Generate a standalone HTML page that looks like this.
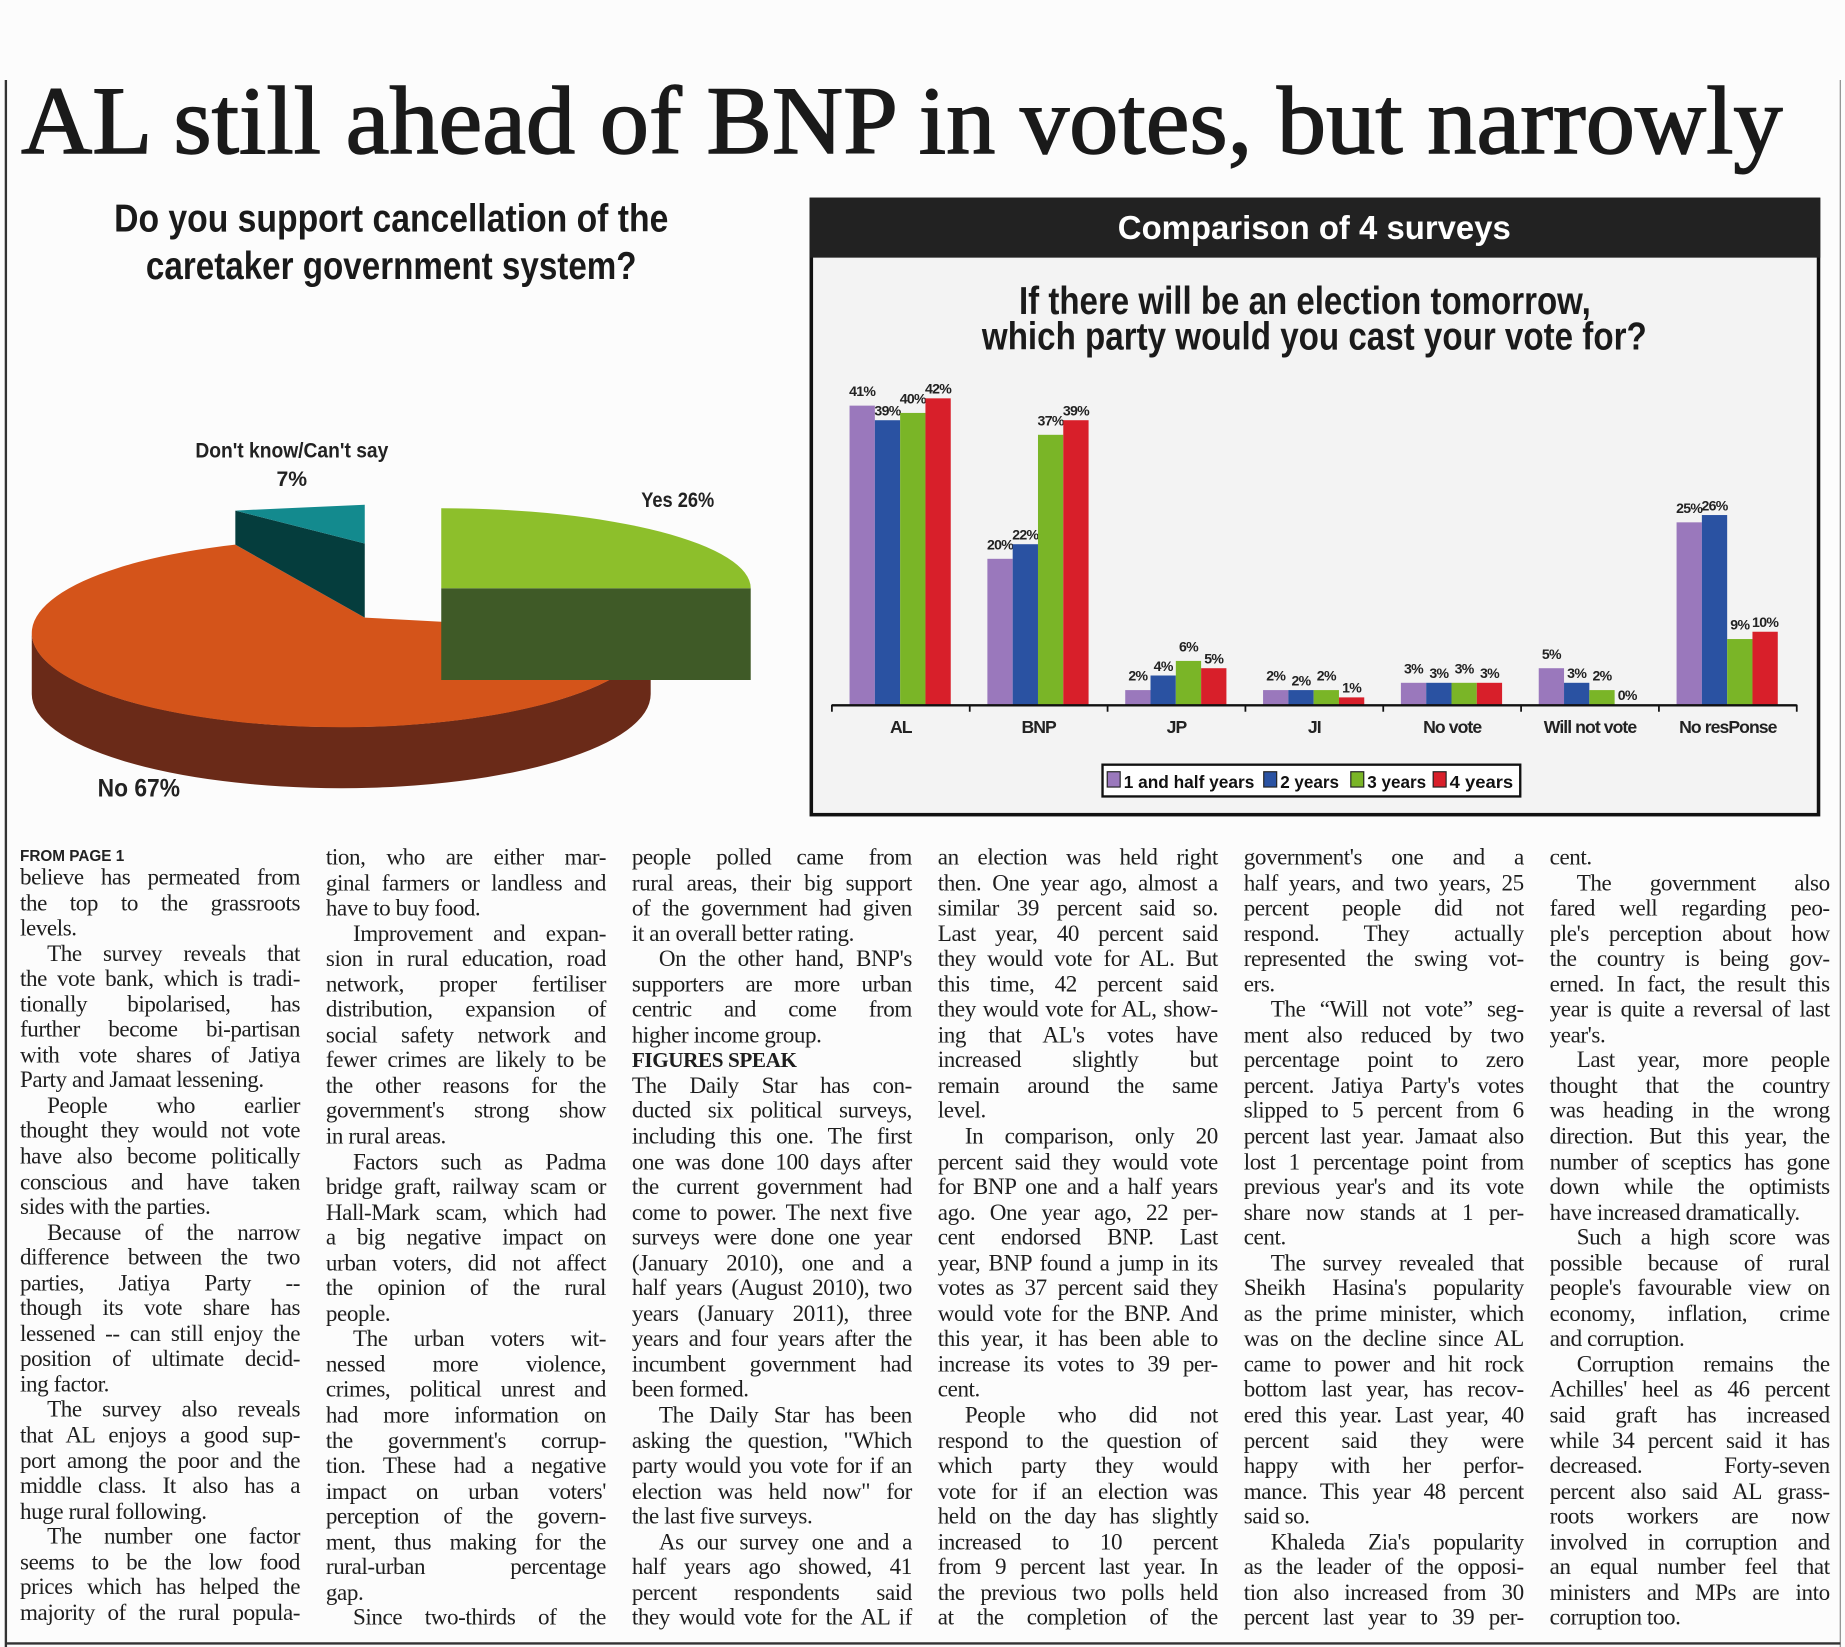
<!DOCTYPE html>
<html><head><meta charset="utf-8">
<style>
html,body{margin:0;padding:0;background:#fff;}
body{width:1845px;height:1647px;overflow:hidden;position:relative;}
#wrap{position:absolute;left:0;top:0;width:1568px;height:1400px;transform:scale(1.17666,1.17643);transform-origin:0 0;background:#fcfcfc;}
svg text{font-family:"Liberation Sans",sans-serif;}
.col{position:absolute;width:238px;font-family:"Liberation Serif",serif;font-size:19.6px;color:#1e1e1e;letter-spacing:-0.35px;}
.ln{height:21.55px;line-height:21.55px;white-space:nowrap;text-align:justify;text-align-last:justify;}
.ln.l{text-align-last:left;}
.ln.i{padding-left:23px;}
.ln.b{font-weight:bold;text-align-last:left;font-size:18px;}
</style></head>
<body>
<div id="wrap">
<svg id="gfx" width="1568" height="1400" style="position:absolute;left:0;top:0">
  <line x1="5" y1="68" x2="5" y2="1400" stroke="#333" stroke-width="2"/>
  <line x1="1564" y1="68" x2="1564" y2="1400" stroke="#888" stroke-width="1"/>
  <line x1="5" y1="1397" x2="1564" y2="1397" stroke="#333" stroke-width="2"/>
  <text x="18" y="130" font-size="82" fill="#1a1a1a" stroke="#1a1a1a" stroke-width="1.2" textLength="1497" lengthAdjust="spacingAndGlyphs" style="font-family:'Liberation Serif',serif">AL still ahead of BNP in votes, but narrowly</text>
  <text x="97" y="197" font-size="33" font-weight="bold" fill="#1a1a1a" textLength="471" lengthAdjust="spacingAndGlyphs">Do you support cancellation of  the</text>
  <text x="124" y="237" font-size="33" font-weight="bold" fill="#1a1a1a" textLength="417" lengthAdjust="spacingAndGlyphs">caretaker government system?</text>
  <g>
    <path d="M553,538 A263 80 0 0 1 27,538 L27,590 A263 80 0 0 0 553,590 Z" fill="#6a2a18"/>
    <path d="M310,525 L553,538 A263 80 0 1 1 200,463 Z" fill="#d4541a"/>
    <polygon points="200,434 310,462 310,525 200,463" fill="#053d3d"/>
    <polygon points="200,434 310,429 310,462" fill="#138a8e"/>
    <path d="M375,500 L638,500 L638,578 L375,578 Z" fill="#3f5a27"/>
    <path d="M375,500 L638,500 A263 68 0 0 0 375,432 Z" fill="#8dbf2b"/>
    <text x="248" y="389" font-size="18" font-weight="bold" text-anchor="middle" fill="#222" textLength="164" lengthAdjust="spacingAndGlyphs">Don't know/Can't say</text>
    <text x="248" y="413" font-size="18" font-weight="bold" text-anchor="middle" fill="#222">7%</text>
    <text x="576" y="431" font-size="18" font-weight="bold" text-anchor="middle" fill="#222" textLength="62" lengthAdjust="spacingAndGlyphs">Yes 26%</text>
    <text x="118" y="677" font-size="21" font-weight="bold" text-anchor="middle" fill="#222" textLength="70" lengthAdjust="spacingAndGlyphs">No 67%</text>
  </g>
  <rect x="689.5" y="169.5" width="856" height="523" fill="#f3f3f3" stroke="#111" stroke-width="3"/>
  <rect x="688" y="168" width="859" height="51" fill="#222"/>
  <text x="1117" y="203" font-size="28" font-weight="bold" fill="#fff" text-anchor="middle" textLength="334" lengthAdjust="spacingAndGlyphs">Comparison of 4 surveys</text>
  <text x="1109" y="267" font-size="33" font-weight="bold" fill="#1a1a1a" text-anchor="middle" textLength="486" lengthAdjust="spacingAndGlyphs">If there will be an election tomorrow,</text>
  <text x="1117" y="297" font-size="33" font-weight="bold" fill="#1a1a1a" text-anchor="middle" textLength="565" lengthAdjust="spacingAndGlyphs">which party would you cast your vote for?</text>
  <g id="bars"></g>
  <rect x="937" y="650" width="355" height="27" fill="#fff" stroke="#111" stroke-width="2"/>
  <g id="legend"></g>
</svg>
<div style="position:absolute;left:17px;top:720px;font:bold 13px 'Liberation Sans',sans-serif;color:#222">FROM PAGE 1</div>
<div id="cols"></div>
</div>
<script>
const categories=["AL","BNP","JP","JI","No vote","Will not vote","No resPonse"];
const seriesNames=["1 and half years","2 years","3 years","4 years"];
const s1=[41,20,2,2,3,5,25];
const s2=[39,22,4,2,3,3,26];
const s3=[40,37,6,2,3,2,9];
const s4=[42,39,5,1,3,0,10];
const series=[s1,s2,s3,s4];
const colors=["#9a78bc","#2a52a2","#7ab527","#d81f2a"];
const NS="http://www.w3.org/2000/svg";
const x0=707,x1=1527,base=599,pxPer=6.2;
const gw=(x1-x0)/categories.length;
function xBand(i){return x0+gw*i;}
function yVal(v){return base-v*pxPer;}
function mk(tag,attrs,parent){const e=document.createElementNS(NS,tag);for(const k in attrs)e.setAttribute(k,attrs[k]);parent.appendChild(e);return e;}
const g=document.getElementById('bars');
const bw=21.5;
categories.forEach((c,i)=>{
  series.forEach((s,j)=>{
    const x=xBand(i)+15+j*bw, y=yVal(s[i]);
    const r=mk('rect',{x:x,y:y,width:bw,height:base-y,fill:colors[j]},g);
    
    
    const t=mk('text',{x:x+bw/2,y:y-4-(j%2?0:4),'font-size':12,'font-weight':'bold','text-anchor':'middle',fill:'#222','letter-spacing':'-0.6'},g);
    t.textContent=s[i]+'%';
    
    
  });
  const lb=mk('text',{x:xBand(i)+gw/2,y:623,'font-size':15,'font-weight':'bold','text-anchor':'middle',fill:'#222','letter-spacing':'-0.8'},g);
  lb.textContent=c;
  
  
});
const ax=mk('line',{x1:x0,y1:base+0.5,x2:x1,y2:base+0.5,stroke:'#111','stroke-width':2},g);


for(let i=0;i<=categories.length;i++){
  const tk=mk('line',{x1:xBand(i),y1:base,x2:xBand(i),y2:base+6,stroke:'#111','stroke-width':1.5},g);
  
  
}
const lg=document.getElementById('legend');
const lx=[941,1074,1148,1218], lw=[111,50,50,54];
seriesNames.forEach((n,j)=>{
  const r=mk('rect',{x:lx[j],y:656,width:11,height:13,fill:colors[j],stroke:'#222','stroke-width':1},lg);
  
  
  const t=mk('text',{x:lx[j]+14,y:670,'font-size':15,'font-weight':'bold',fill:'#111',textLength:lw[j],lengthAdjust:'spacingAndGlyphs'},lg);
  t.textContent=n;
  
  
});
const cols=[
[736,[
"believe has permeated from","the top to the grassroots","|levels.",">The survey reveals that","the vote bank, which is tradi-","tionally bipolarised, has","further become bi-partisan","with vote shares of Jatiya","|Party and Jamaat lessening.",">People who earlier","thought they would not vote","have also become politically","conscious and have taken","|sides with the parties.",">Because of the narrow","difference between the two","parties, Jatiya Party --","though its vote share has","lessened -- can still enjoy the","position of ultimate decid-","|ing factor.",">The survey also reveals","that AL enjoys a good sup-","port among the poor and the","middle class. It also has a","|huge rural following.",">The number one factor","seems to be the low food","prices which has helped the","majority of the rural popula-"]],
[719,[
"tion, who are either mar-","ginal farmers or landless and","|have to buy food.",">Improvement and expan-","sion in rural education, road","network, proper fertiliser","distribution, expansion of","social safety network and","fewer crimes are likely to be","the other reasons for the","government's strong show","|in rural areas.",">Factors such as Padma","bridge graft, railway scam or","Hall-Mark scam, which had","a big negative impact on","urban voters, did not affect","the opinion of the rural","|people.",">The urban voters wit-","nessed more violence,","crimes, political unrest and","had more information on","the government's corrup-","tion. These had a negative","impact on urban voters'","perception of the govern-","ment, thus making for the","rural-urban percentage","|gap.",">Since two-thirds of the"]],
[719,[
"people polled came from","rural areas, their big support","of the government had given","|it an overall better rating.",">On the other hand, BNP's","supporters are more urban","centric and come from","|higher income group.","#FIGURES SPEAK","The Daily Star has con-","ducted six political surveys,","including this one. The first","one was done 100 days after","the current government had","come to power. The next five","surveys were done one year","(January 2010), one and a","half years (August 2010), two","years (January 2011), three","years and four years after the","incumbent government had","|been formed.",">The Daily Star has been","asking the question, \"Which","party would you vote for if an","election was held now\" for","|the last five surveys.",">As our survey one and a","half years ago showed, 41","percent respondents said","they would vote for the AL if"]],
[719,[
"an election was held right","then. One year ago, almost a","similar 39 percent said so.","Last year, 40 percent said","they would vote for AL. But","this time, 42 percent said","they would vote for AL, show-","ing that AL's votes have","increased slightly but","remain around the same","|level.",">In comparison, only 20","percent said they would vote","for BNP one and a half years","ago. One year ago, 22 per-","cent endorsed BNP. Last","year, BNP found a jump in its","votes as 37 percent said they","would vote for the BNP. And","this year, it has been able to","increase its votes to 39 per-","|cent.",">People who did not","respond to the question of","which party they would","vote for if an election was","held on the day has slightly","increased to 10 percent","from 9 percent last year. In","the previous two polls held","at the completion of the"]],
[719,[
"government's one and a","half years, and two years, 25","percent people did not","respond. They actually","represented the swing vot-","|ers.",">The \u201cWill not vote\u201d seg-","ment also reduced by two","percentage point to zero","percent. Jatiya Party's votes","slipped to 5 percent from 6","percent last year. Jamaat also","lost 1 percentage point from","previous year's and its vote","share now stands at 1 per-","|cent.",">The survey revealed that","Sheikh Hasina's popularity","as the prime minister, which","was on the decline since AL","came to power and hit rock","bottom last year, has recov-","ered this year. Last year, 40","percent said they were","happy with her perfor-","mance. This year 48 percent","|said so.",">Khaleda Zia's popularity","as the leader of the opposi-","tion also increased from 30","percent last year to 39 per-"]],
[719,[
"|cent.",">The government also","fared well regarding peo-","ple's perception about how","the country is being gov-","erned. In fact, the result this","year is quite a reversal of last","|year's.",">Last year, more people","thought that the country","was heading in the wrong","direction. But this year, the","number of sceptics has gone","down while the optimists","|have increased dramatically.",">Such a high score was","possible because of rural","people's favourable view on","economy, inflation, crime","|and corruption.",">Corruption remains the","Achilles' heel as 46 percent","said graft has increased","while 34 percent said it has","decreased. Forty-seven","percent also said AL grass-","roots workers are now","involved in corruption and","an equal number feel that","ministers and MPs are into","|corruption too."]]
];
const colX=[17,277,537,797,1057,1317];
const host=document.getElementById('cols');
cols.forEach((c,ci)=>{
  const d=document.createElement('div');
  d.className='col';
  d.style.left=colX[ci]+'px';
  d.style.top=c[0]+'px';
  
  
  c[1].forEach(s=>{
    const l=document.createElement('div');
    l.className='ln';
    if(s[0]=='>'){l.classList.add('i');s=s.slice(1);}
    if(s[0]=='|'){l.classList.add('l');s=s.slice(1);}
    if(s[0]=='#'){l.classList.add('b');s=s.slice(1);}
    l.textContent=s;
    
    
    d.appendChild(l);
  });
  host.appendChild(d);
});
</script>
</body></html>
